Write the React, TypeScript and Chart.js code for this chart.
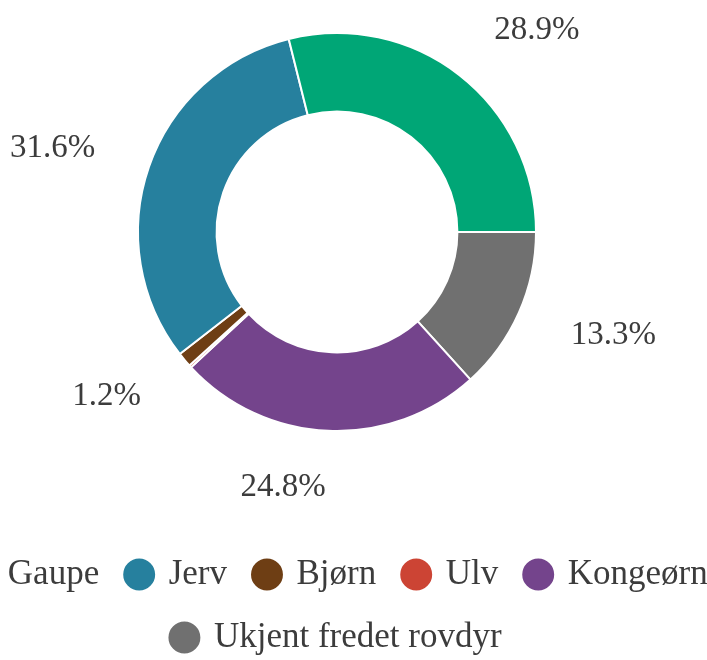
import React, { useEffect, useRef } from 'react';
import { Chart, registerables } from 'chart.js';

Chart.register(...registerables);

// Legend order (as in the reference legend)
const categories = ['Gaupe', 'Jerv', 'Bjørn', 'Ulv', 'Kongeørn', 'Ukjent fredet rovdyr'];
const shares = [28.9, 31.6, 1.2, 0.2, 24.8, 13.3];
const colors = ['#00A676', '#26809E', '#6E3E14', '#CC4434', '#74448C', '#707070'];

const FONT = "'Liberation Serif', 'Times New Roman', serif";
const TEXT_COLOR = '#3c3c3c';

const outerLabels = {
  id: 'outerLabels',
  afterDraw(chart: any) {
    const ctx = chart.ctx;
    const meta = chart.getDatasetMeta(0);
    const data = chart.data.datasets[0].data as number[];
    const total = data.reduce((a, b) => a + b, 0);
    ctx.save();
    ctx.font = `33px ${FONT}`;
    ctx.fillStyle = TEXT_COLOR;
    ctx.textBaseline = 'middle';
    meta.data.forEach((arc: any, i: number) => {
      const pct = (data[i] / total) * 100;
      if (pct < 1) return;
      const p = arc.getProps(['x', 'y', 'startAngle', 'endAngle', 'outerRadius'], true);
      const mid = (p.startAngle + p.endAngle) / 2;
      const r = p.outerRadius * 1.285;
      const px = p.x + Math.cos(mid) * r;
      const py = p.y + Math.sin(mid) * r;
      ctx.textAlign = Math.cos(mid) >= 0 ? 'left' : 'right';
      ctx.fillText(pct.toFixed(1) + '%', px, py);
    });
    ctx.restore();
  },
};

export default function App() {
  const canvasRef = useRef<HTMLCanvasElement | null>(null);

  useEffect(() => {
    if (!canvasRef.current) return;
    // Slices run counter-clockwise from 3 o'clock: draw reversed order clockwise
    const idx = categories.map((_, i) => categories.length - 1 - i);
    const chart = new Chart(canvasRef.current, {
      type: 'doughnut',
      data: {
        labels: idx.map((i) => categories[i]),
        datasets: [
          {
            data: idx.map((i) => shares[i]),
            backgroundColor: idx.map((i) => colors[i]),
            borderColor: '#ffffff',
            borderWidth: 2,
          },
        ],
      },
      options: {
        responsive: false,
        animation: false,
        rotation: 90,
        cutout: '60.5%',
        layout: { padding: { top: 32, left: 0, right: 0, bottom: 0 } },
        plugins: {
          tooltip: { enabled: false },
          legend: {
            position: 'bottom',
            reverse: true,
            title: {
              display: true,
              text: '',
              font: { size: 12, lineHeight: 1 },
              padding: { top: 85, bottom: 0 },
            },
            labels: {
              usePointStyle: true,
              pointStyle: 'circle',
              boxWidth: 24,
              boxHeight: 24,
              padding: 28,
              color: TEXT_COLOR,
              font: { family: FONT, size: 35 },
            },
          },
        },
      },
      plugins: [outerLabels],
    });
    return () => chart.destroy();
  }, []);

  return (
    <div
      style={{
        position: 'fixed',
        left: 0,
        top: 0,
        width: 707,
        height: 660,
        overflow: 'hidden',
        background: '#ffffff',
      }}
    >
      <div style={{ position: 'absolute', left: -73, top: 0, width: 820, height: 665 }}>
        <canvas ref={canvasRef} width={820} height={665} />
      </div>
    </div>
  );
}
